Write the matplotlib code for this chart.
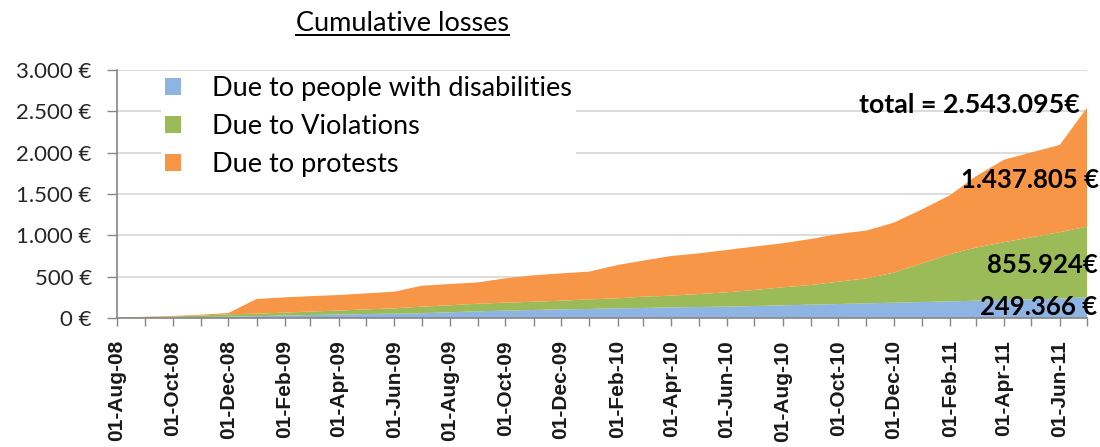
import matplotlib.pyplot as plt
import matplotlib.dates as mdates
from matplotlib.lines import Line2D
import numpy as np
import pandas as pd

# cumulative losses per month, in thousands of euros (Aug-08 .. Jul-11)
months = pd.date_range("2008-08-01", periods=36, freq="MS")

disabilities = [1, 4, 8, 12, 16, 22, 30, 36, 42, 48, 53, 57,
                69, 81, 89, 97, 105, 109, 117, 121, 129, 133, 137, 145,
                153, 161, 169, 177, 185, 193, 201, 209, 218, 226, 234, 249.366]
violations = [1, 6, 10, 18, 29, 30, 35, 42, 48, 56, 64, 80,
              85, 92, 96, 100, 104, 117, 121, 137, 141, 157, 174, 194,
              218, 238, 270, 303, 363, 468, 573, 642, 699, 751, 804, 855.924]
protests = [1, 5, 7, 10, 15, 178, 185, 186, 188, 194, 201, 253,
            257, 258, 295, 319, 331, 335, 403, 436, 480, 492, 512, 525,
            533, 557, 577, 578, 605, 653, 714, 863, 998, 1026, 1055, 1437.805]

series_names = ["Due to people with disabilities", "Due to Violations", "Due to protests"]
colors = ["#8EB4E3", "#9BBB59", "#F79646"]
yticks = [0, 500, 1000, 1500, 2000, 2500, 3000]

grey = "#868686"


def euro(v):
    # thousands of euros -> "2.543.095"
    return f"{v * 1000:,.0f}".replace(",", ".")


fig = plt.figure(figsize=(11, 4.47), dpi=100)
ax = fig.add_axes([0.1064, 0.2886, 0.8818, 0.5548])

ax.stackplot(months, disabilities, violations, protests, colors=colors,
             labels=series_names, linewidth=0, zorder=2)

ax.set_xlim(months[0], months[-1])
ax.set_ylim(0, 3000)
ax.set_yticks(yticks)
ax.set_yticklabels([f"{v:,.0f}".replace(",", ".") + " €" for v in yticks],
                   fontfamily="Lato", fontsize=16, color="#262626")
ax.yaxis.grid(True, color="#d9d9d9", linewidth=1.3, zorder=0)
ax.set_axisbelow(True)

ax.xaxis.set_major_locator(mdates.MonthLocator(bymonth=[2, 4, 6, 8, 10, 12]))
ax.xaxis.set_minor_locator(mdates.MonthLocator())
ax.xaxis.set_major_formatter(mdates.DateFormatter("%d-%b-%y"))
for lab in ax.get_xticklabels():
    lab.set_rotation(90)
    lab.set_fontfamily("Liberation Sans")
    lab.set_fontweight("bold")
    lab.set_fontsize(15)
    lab.set_color("#1a1a1a")

ax.tick_params(axis="x", which="both", length=6, width=1, color=grey, pad=10)
ax.tick_params(axis="y", length=7.2, width=1, color=grey, pad=11)
for side in ["top", "right"]:
    ax.spines[side].set_visible(False)
for side in ["left", "bottom"]:
    ax.spines[side].set_color(grey)
    ax.spines[side].set_linewidth(1.2)

leg = ax.legend(loc="upper left", bbox_to_anchor=(0.031, 1.045), frameon=True,
                facecolor="white", edgecolor="none", framealpha=1,
                prop={"family": "Lato", "size": 19.5}, handlelength=0.6,
                handleheight=0.6, handletextpad=1.15, labelspacing=0.47,
                borderpad=0.15)

# value labels at the last month
last = months[-1]
total = disabilities[-1] + violations[-1] + protests[-1]
green_top = disabilities[-1] + violations[-1]
lab_kw = dict(xycoords="data", textcoords="offset pixels", ha="right", va="center",
              fontfamily="Lato", fontweight="bold", fontsize=18.5, color="black",
              annotation_clip=False)
ax.annotate(f"total = {euro(total)}€", (last, total), xytext=(-7, 3),
            **{**lab_kw, "fontsize": 19.3})
ax.annotate(f"{euro(protests[-1])} €", (last, (green_top + total) / 2),
            xytext=(12, -13), **lab_kw)
ax.annotate(f"{euro(violations[-1])}€", (last, (disabilities[-1] + green_top) / 2),
            xytext=(11, -3), **lab_kw)
ax.annotate(f"{euro(disabilities[-1])} €", (last, disabilities[-1] / 2),
            xytext=(10, 1), **lab_kw)

title = fig.text(0.3655, 0.947, "Cumulative losses", ha="center", va="center",
                 fontfamily="Lato", fontsize=19.5, color="black")

# underline the title
fig.canvas.draw()
bb = title.get_window_extent().transformed(fig.transFigure.inverted())
fig.add_artist(Line2D([bb.x0, bb.x1], [bb.y0 + 0.002, bb.y0 + 0.002],
                      transform=fig.transFigure, color="black", linewidth=1.4))

fig.savefig("out.png", dpi=100)
